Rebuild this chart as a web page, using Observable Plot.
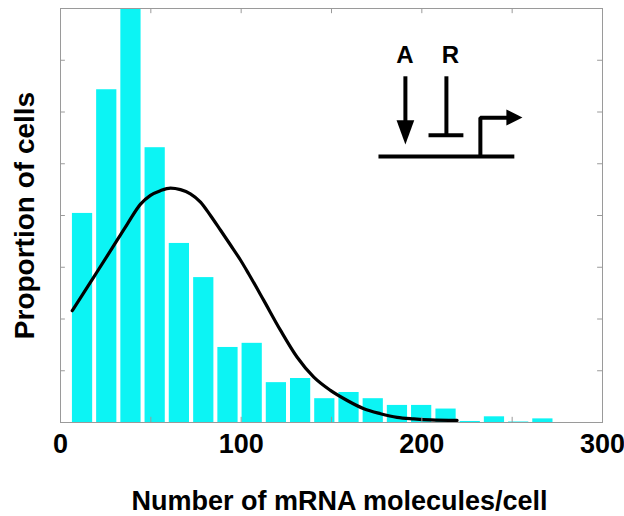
<!DOCTYPE html>
<html>
<head>
<meta charset="utf-8">
<script src="https://cdn.jsdelivr.net/npm/d3@7"></script>
<script src="https://cdn.jsdelivr.net/npm/@observablehq/plot@0.6"></script>
<style>
  html, body { margin: 0; padding: 0; background: #fff; }
</style>
</head>
<body>
<div id="chart"></div>
<script>
// Histogram bins (bin centres, mRNA molecules/cell) and heights (proportion of cells, %)
const binCenters = [12.2, 25.6, 39.0, 52.4, 65.8, 79.3, 92.7, 106.1, 119.5, 132.9,
                    146.3, 159.7, 173.1, 186.5, 199.9, 213.4, 226.8, 240.2, 253.6, 267.0];
const binHeights = [4.04, 6.43, 8.0, 5.31, 3.46, 2.80, 1.45, 1.53, 0.77, 0.85,
                    0.46, 0.58, 0.46, 0.33, 0.33, 0.26, 0.02, 0.11, 0.01, 0.07];
const binWidth = 13.41;

// Fitted distribution curve
const curveX = [6.5, 18.4, 27.7, 36.9, 44.3, 49.8, 55.3, 60.9, 66.4, 71.9, 77.5, 83.0,
                88.5, 94.1, 99.6, 104.2, 112.5, 121.8, 131.0, 140.2, 149.4, 158.7,
                167.9, 177.1, 186.3, 195.5, 204.8, 219.5];
const curveY = [2.16, 2.81, 3.32, 3.83, 4.22, 4.39, 4.48, 4.53, 4.50, 4.42, 4.26, 4.00,
                3.72, 3.43, 3.14, 2.87, 2.36, 1.78, 1.26, 0.875, 0.62, 0.425,
                0.265, 0.17, 0.10, 0.07, 0.05, 0.04];

// Axis ticks
const xTickLabels = [0, 100, 200, 300];
const xTickMarks = [0, 50, 100, 150, 200, 250, 300];
const yTickMarks = [1, 2, 3, 4, 5, 6, 7];

// Inset regulation diagram (activator A, repressor R, promoter) in data units
const diagramLines = [
  {id: "A", pts: [[190.9, 6.69], [190.9, 5.76]]},
  {id: "R", pts: [[213.6, 6.69], [213.6, 5.55]]},
  {id: "Rbar", pts: [[203.7, 5.55], [223.0, 5.55]]},
  {id: "dna", pts: [[176.0, 5.14], [251.2, 5.14]]},
  {id: "prom", pts: [[232.4, 5.14], [232.4, 5.89], [248.5, 5.89]]}
];
const diagramHeads = [
  {id: "Ahead", pts: [[186.0, 5.84], [195.8, 5.84], [190.9, 5.37]]},
  {id: "Phead", pts: [[246.8, 6.05], [246.8, 5.74], [255.7, 5.895]]}
];
const diagramLabels = [
  {label: "A", x: 190.6, y: 6.94},
  {label: "R", x: 215.8, y: 6.94}
];

const bars = binCenters.map((c, i) => ({x1: c - binWidth / 2, x2: c + binWidth / 2, y: binHeights[i]}));
const curve = curveX.map((x, i) => ({x, y: curveY[i]}));
const flat = arr => arr.flatMap(d => d.pts.map(p => ({id: d.id, x: p[0], y: p[1]})));

const gray = "#9a9a9a";
const font = "'Liberation Sans', Arial, Helvetica, sans-serif";

const chart = Plot.plot({
  width: 624,
  height: 516,
  marginTop: 8,
  marginRight: 22,
  marginBottom: 94,
  marginLeft: 60,
  style: {fontFamily: font, fontWeight: "bold", background: "#fff", color: "#000"},
  x: {domain: [0, 300]},
  y: {domain: [0, 8]},
  marks: [
    Plot.rectY(bars, {x1: "x1", x2: "x2", y: "y", fill: "#0cf4f4", insetLeft: 2, insetRight: 2}),
    Plot.line(curve, {x: "x", y: "y", stroke: "#000", strokeWidth: 3.2, curve: "monotone-x"}),
    Plot.frame({stroke: gray, strokeWidth: 1}),
    Plot.ruleX(xTickMarks, {x: d => d, y1: 0, y2: 0.1, stroke: gray}),
    Plot.ruleX(xTickMarks, {x: d => d, y1: 8, y2: 7.9, stroke: gray}),
    Plot.ruleY(yTickMarks, {y: d => d, x1: 0, x2: 2.7, stroke: gray}),
    Plot.ruleY(yTickMarks, {y: d => d, x1: 300, x2: 297.3, stroke: gray}),
    Plot.axisX(xTickLabels, {anchor: "bottom", tickSize: 0, tickPadding: 11, fontSize: 27, fontWeight: "bold", label: null}),
    Plot.axisY({ticks: [], label: null}),
    Plot.text(["Number of mRNA molecules/cell"], {frameAnchor: "bottom", textAnchor: "middle", dx: 8, dy: 79, lineAnchor: "middle", fontSize: 27, fontWeight: "bold"}),
    Plot.text(["Proportion of cells"], {frameAnchor: "left", textAnchor: "middle", rotate: -90, dx: -27, lineAnchor: "bottom", fontSize: 28, fontWeight: "bold"}),
    // inset diagram
    Plot.line(flat(diagramLines), {x: "x", y: "y", z: "id", stroke: "#000", strokeWidth: 4, strokeLinecap: "butt", strokeLinejoin: "miter", curve: "linear"}),
    Plot.line(flat(diagramHeads), {x: "x", y: "y", z: "id", fill: "#000", stroke: "none", curve: "linear-closed"}),
    Plot.text(diagramLabels, {x: "x", y: "y", text: "label", lineAnchor: "bottom", fontSize: 24, fontWeight: "bold"})
  ]
});
document.getElementById("chart").appendChild(chart);
</script>
</body>
</html>
